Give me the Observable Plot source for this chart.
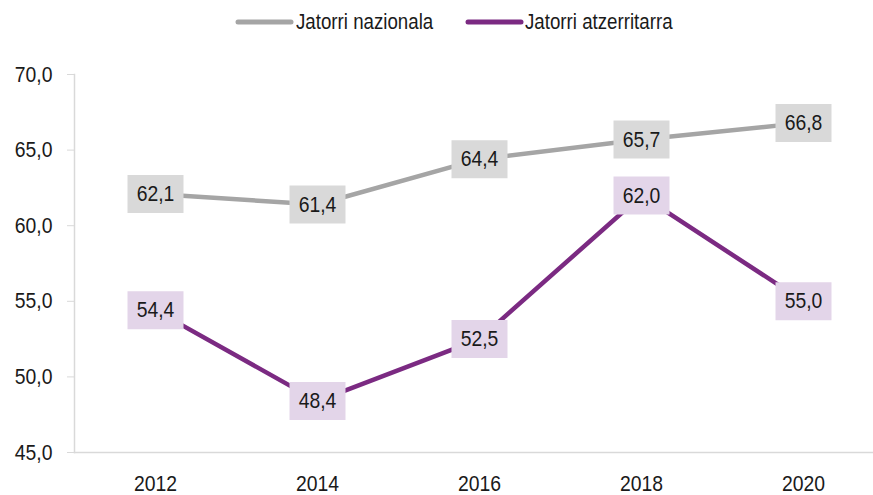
<!DOCTYPE html>
<html>
<head>
<meta charset="utf-8">
<script src="https://cdn.jsdelivr.net/npm/d3@7"></script>
<script src="https://cdn.jsdelivr.net/npm/@observablehq/plot@0.6"></script>
<style>
  body { margin: 0; background: #fff; font-family: "Liberation Sans", Arial, sans-serif; color: #1a1a1a; }
  #legend { position: relative; height: 42px; font-size: 22px; }
  .sw { position: absolute; top: 17px; line-height: 0; }
  .sw svg { display: block; }
  .lab { position: absolute; top: 9px; line-height: 26px; white-space: nowrap; transform: scaleX(0.85); transform-origin: left center; }
</style>
</head>
<body>
<div id="legend"></div>
<div id="chart"></div>
<script>
const years = [2012, 2014, 2016, 2018, 2020];
const nazionala = [62.1, 61.4, 64.4, 65.7, 66.8];
const atzerritarra = [54.4, 48.4, 52.5, 62.0, 55.0];
const seriesNames = ["Jatorri nazionala", "Jatorri atzerritarra"];
const yTicks = [45, 50, 55, 60, 65, 70];

const lineColors = ["#a5a5a5", "#7b2a82"];
const boxColors = ["#d9d9d9", "#e3d5e9"];

const data = [];
years.forEach((y, i) => {
  data.push({year: y, value: nazionala[i], series: seriesNames[0]});
  data.push({year: y, value: atzerritarra[i], series: seriesNames[1]});
});

const fmt = d => d.toFixed(1).replace(".", ",");

const box = {draw(ctx) { ctx.rect(-28, -19, 56, 38); }};

// legend
const legend = document.getElementById("legend");
const legendX = [[234, 296], [464, 525]];
seriesNames.forEach((name, i) => {
  const sw = document.createElement("div");
  sw.className = "sw";
  sw.style.left = legendX[i][0] + "px";
  sw.innerHTML = `<svg width="61" height="10"><line x1="4" y1="5" x2="57" y2="5" stroke="${lineColors[i]}" stroke-width="5" stroke-linecap="round"/></svg>`;
  legend.appendChild(sw);
  const lab = document.createElement("span");
  lab.className = "lab";
  lab.style.left = legendX[i][1] + "px";
  lab.textContent = name;
  legend.appendChild(lab);
});

const chart = Plot.plot({
  width: 873,
  height: 453,
  marginTop: 32,
  marginBottom: 43,
  marginLeft: 74,
  marginRight: 0,
  style: {fontFamily: '"Liberation Sans", Arial, sans-serif', fontSize: "22px", color: "#1a1a1a", background: "#fff"},
  x: {type: "point", domain: years, range: [155, 803], padding: 0},
  y: {domain: [45, 70]},
  color: {domain: seriesNames, range: lineColors},
  marks: [
    Plot.frame({anchor: "left", stroke: "#d9d9d9", strokeWidth: 1.5, strokeOpacity: 1}),
    Plot.frame({anchor: "bottom", stroke: "#d9d9d9", strokeWidth: 1.5, strokeOpacity: 1}),
    Plot.axisY({ticks: yTicks, tickFormat: fmt, tickSize: 7, tickPadding: 15, stroke: "#d9d9d9", strokeOpacity: 1, label: null, fontSize: 22}),
    Plot.axisX({ticks: years, tickFormat: d => String(d), tickSize: 0, tickPadding: 23, label: null, fontSize: 22}),
    Plot.line(data, {x: "year", y: "value", z: "series", stroke: "series", strokeWidth: 4.5, strokeLinejoin: "round"}),
    Plot.dot(data, {x: "year", y: "value", symbol: box, r: 10, stroke: null,
      fill: d => boxColors[seriesNames.indexOf(d.series)]}),
    Plot.text(data, {x: "year", y: "value", text: d => fmt(d.value), fill: "#1a1a1a", fontSize: 22})
  ]
});

// condense text horizontally around its anchor point (no condensed font installed)
d3.select(chart).selectAll("text").each(function () {
  const t = d3.select(this);
  const tr = t.attr("transform");
  if (tr) {
    t.attr("transform", tr + " scale(0.88,1)");
  } else {
    const x = +t.attr("x") || 0, y = +t.attr("y") || 0;
    t.attr("x", null).attr("y", null).attr("transform", `translate(${x},${y}) scale(0.88,1)`);
  }
});

document.getElementById("chart").appendChild(chart);
</script>
</body>
</html>
